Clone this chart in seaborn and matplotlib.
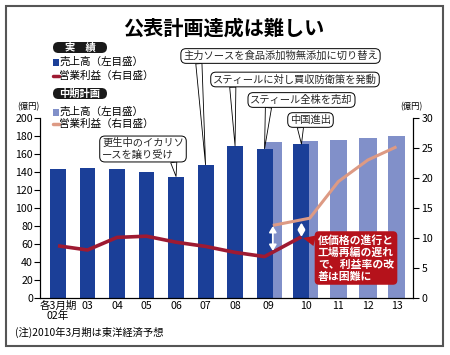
import numpy as np
import pandas as pd
import matplotlib.pyplot as plt
import seaborn as sns
from matplotlib.patches import Rectangle, FancyBboxPatch
from matplotlib.lines import Line2D

# categories / tick labels
years = ["各3月期\n02年", "03", "04", "05", "06", "07", "08", "09", "10", "11", "12", "13"]
tick_x = [0, 1, 2, 3, 4, 5, 6, 7.12, 8.4, 9.5, 10.5, 11.5]

# actual results (実績)
act_x = [0, 1, 2, 3, 4, 5, 6, 7, 8.25]
act_sales = [143, 145, 143, 140, 135, 148, 169, 166, 171]
act_profit = [8.7, 8.0, 10.1, 10.3, 9.3, 8.6, 7.6, 6.9, 10.2]

# mid-term plan (中期計画)
plan_x = [7.28, 8.53, 9.5, 10.5, 11.47]
plan_sales = [173, 175, 176, 178, 180]
plan_profit = [12.1, 13.3, 19.4, 23.0, 25.2]

DARK = "#1b3f98"
LIGHT = "#8190c9"
RED = "#9e1a32"
SALMON = "#dd9a84"
BOX_RED = "#b5121b"

sns.set_theme(style="white")
plt.rcParams["font.family"] = ["Noto Sans CJK JP", "DejaVu Sans"]

fig = plt.figure(figsize=(4.5, 3.55), dpi=100)
ax = fig.add_axes([40 / 450, 1 - 298 / 355, 373 / 450, 180 / 355])

plan_df = pd.DataFrame({"x": plan_x, "sales": plan_sales})
act_df = pd.DataFrame({"x": act_x, "sales": act_sales})
sns.barplot(plan_df, x="x", y="sales", native_scale=True, width=0.59 / np.diff(plan_x).min(),
            color=LIGHT, saturation=1, linewidth=0, errorbar=None, ax=ax)
sns.barplot(act_df, x="x", y="sales", native_scale=True, width=0.54 / np.diff(act_x).min(),
            color=DARK, saturation=1, linewidth=0, errorbar=None, ax=ax)

ax2 = ax.twinx()
sns.lineplot(x=act_x, y=act_profit, color=RED, lw=2.6, ax=ax2, solid_capstyle="butt")
sns.lineplot(x=plan_x, y=plan_profit, color=SALMON, lw=2.2, ax=ax2, solid_capstyle="butt")

ax.set_xlim(-0.61, 12.03)
ax.set_ylim(0, 200)
ax2.set_ylim(0, 30)
ax.set_yticks(range(0, 201, 20))
ax2.set_yticks(range(0, 31, 5))
ax.set_xticks(tick_x, years)
for lab in ax.get_xticklabels():
    lab.set_linespacing(0.95)
ax.set_xlabel("")
ax.set_ylabel("")
ax2.set_ylabel("")
ax.tick_params(axis="y", left=True, direction="out", length=4, width=0.8, labelsize=7.6, pad=1, colors="black")
ax.tick_params(axis="x", length=0, labelsize=7.6, pad=2, colors="black")
ax2.tick_params(axis="y", right=True, direction="out", length=4, width=0.8, labelsize=7.6, pad=2, colors="black")
for a in (ax, ax2):
    a.spines["top"].set_visible(False)
    for s in ("left", "right", "bottom"):
        a.spines[s].set_color("black")
        a.spines[s].set_linewidth(0.8)

# gap arrows between plan and actual profit
gaps = [(plan_x[0], np.interp(plan_x[0], act_x, act_profit) + 0.2, plan_profit[0] - 0.1),
        (act_x[-1], act_profit[-1], np.interp(act_x[-1], plan_x, plan_profit) - 0.5)]
for gx, lo, hi in gaps:
    ax2.annotate("", xy=(gx, lo), xytext=(gx, hi),
                 arrowprops=dict(arrowstyle="<|-|>,head_length=0.5,head_width=0.3", color="white",
                                 lw=1.3, shrinkA=0, shrinkB=0, mutation_scale=7))

# event callouts pointing at bar tops
notes = [
    ("主力ソースを食品添加物無添加に切り替え", 5, (280.5, 56), 0.08),
    ("スティールに対し買収防衛策を発動", 6, (295, 79.5), 0.12),
    ("スティール全株を売却", 7, (301.5, 100), 0.18),
    ("中国進出", 8, (310.5, 120), 0.25),
    ("更生中のイカリソ\nースを譲り受け", 4, (143, 149), 0.87),
]
for txt, i, (cx, cy), rx in notes:
    ax.annotate(txt, xy=(act_x[i], act_sales[i]), xytext=(cx, 355 - cy), textcoords="figure pixels",
                ha="center", va="center", multialignment="left", fontsize=7.4, linespacing=1.15,
                bbox=dict(boxstyle="round,pad=0.22,rounding_size=0.5", fc="white", ec="black", lw=0.7),
                arrowprops=dict(arrowstyle="wedge,tail_width=0.6,shrink_factor=0.5", fc="white",
                                ec="black", lw=0.6, relpos=(rx, 0), shrinkA=0, shrinkB=0))

ax2.annotate("低価格の進行と\n工場再編の遅れ\nで、利益率の改\n善は困難に",
             xy=(act_x[-1] + 0.05, act_profit[-1] - 0.2), xytext=(356, 355 - 258), textcoords="figure pixels",
             ha="center", va="center", multialignment="left", fontsize=7.8, fontweight="bold",
             color="white", linespacing=1.2,
             bbox=dict(boxstyle="round,pad=0.3,rounding_size=0.4", fc=BOX_RED, ec="none"),
             arrowprops=dict(arrowstyle="wedge,tail_width=1.0,shrink_factor=0.5", fc=BOX_RED, ec="none",
                             relpos=(0, 0.85), shrinkA=0, shrinkB=0))

# title
fig.text(224 / 450, 1 - 28 / 355, "公表計画達成は難しい", ha="center", va="center",
         fontsize=14.5, fontweight="bold", color="black")

# legend
def pill(label, y0, y1):
    fig.add_artist(FancyBboxPatch((0.53, (355 - y1) / 100), 0.54, (y1 - y0) / 100,
                                  boxstyle="round,pad=0,rounding_size=0.055",
                                  transform=fig.dpi_scale_trans, fc="#1a1a1a", ec="none"))
    fig.text(80 / 450, 1 - (y0 + y1) / 2 / 355, label, ha="center", va="center",
             fontsize=7.4, fontweight="bold", color="white")

def sales_row(y, color):
    fig.add_artist(Rectangle((53 / 450, 1 - (y + 3.5) / 355), 6 / 450, 7 / 355,
                             transform=fig.transFigure, fc=color, ec="none"))
    fig.text(59.5 / 450, 1 - y / 355, "売上高（左目盛）", ha="left", va="center", fontsize=7.6, color="black")

def profit_row(y, color):
    fig.add_artist(Line2D([53 / 450, 59 / 450], [1 - y / 355] * 2, transform=fig.transFigure,
                          color=color, lw=2.5, solid_capstyle="round"))
    fig.text(59.5 / 450, 1 - y / 355, "営業利益（右目盛）", ha="left", va="center", fontsize=7.6, color="black")

pill("実　績", 42, 53)
sales_row(62, DARK)
profit_row(76, RED)
pill("中期計画", 88, 99)
sales_row(112, LIGHT)
profit_row(123.5, SALMON)

fig.text(28 / 450, 1 - 107 / 355, "(億円)", ha="center", va="center", fontsize=6, color="black")
fig.text(411 / 450, 1 - 107 / 355, "(億円)", ha="center", va="center", fontsize=6, color="black")

fig.text(15 / 450, 1 - 332 / 355, "(注)2010年3月期は東洋経済予想", ha="left", va="center",
         fontsize=7.4, color="black")

fig.add_artist(Rectangle((6 / 450, 1 - 346 / 355), 437 / 450, 340 / 355, transform=fig.transFigure,
                         fill=False, ec="#555555", lw=1.5))

fig.savefig("out.png", dpi=100)
